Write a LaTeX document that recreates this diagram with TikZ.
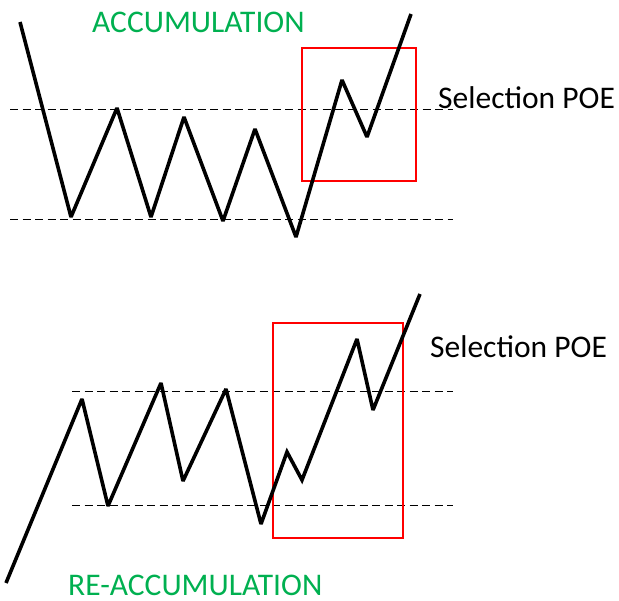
\documentclass[tikz,border=0pt]{standalone}
\usepackage{fontspec}
\setmainfont{Carlito}
\usetikzlibrary{positioning}
\definecolor{accgreen}{RGB}{0,176,80}

\begin{document}
\begin{tikzpicture}[x=1pt,y=-1pt,
  price/.style={line width=3.6pt, line join=miter, miter limit=2.5},
  level/.style={line width=1pt, dash pattern=on 8pt off 4.5pt},
  poe/.style={draw=red, line width=2pt},
  phase/.style={text=accgreen, font=\fontsize{31.5}{36}\selectfont, anchor=west, inner sep=0pt},
  note/.style={font=\fontsize{31.5}{36}\selectfont, anchor=west, inner sep=0pt}]

\useasboundingbox (0,0) rectangle (619,601);

% define the turning points of the accumulation
  \foreach \n/\p in {a0/{20,22}, a1/{71,217}, a2/{117,108}, a3/{151,217},
                     a4/{184,117}, a5/{223,221}, a6/{255,129}, a7/{296,237},
                     a8/{342,80}, a9/{367,137}, a10/{411,14}}
    \coordinate (\n) at (\p);

% define the turning points of the re-accumulation
  \foreach \n/\p in {r0/{6,583}, r1/{82,399}, r2/{108,506}, r3/{161,383},
                     r4/{183,481}, r5/{226,389}, r6/{261,524}, r7/{287,452},
                     r8/{302,480}, r9/{357,339}, r10/{373,410}, r11/{420,294}}
    \coordinate (\n) at (\p);

% range levels
  \draw[level] (10,110) -- (453,110);
  \draw[level] (10,220) -- (453,220);
  \draw[level] (72,392) -- (453,392);
  \draw[level] (72,506) -- (453,506);

% selection boxes
  \draw[poe] (302,48) rectangle (416,181);
  \draw[poe] (273,323) rectangle (403,538);

% price paths
  \draw[price] (a0) -- (a1) -- (a2) -- (a3) -- (a4) -- (a5) -- (a6)
               -- (a7) -- (a8) -- (a9) -- (a10);
  \draw[price] (r0) -- (r1) -- (r2) -- (r3) -- (r4) -- (r5) -- (r6)
               -- (r7) -- (r8) -- (r9) -- (r10) -- (r11);

% labels
  \node[phase] (acc)   at (92,22)  {ACCUMULATION};
  \node[phase] (reacc) at (68,585) {RE-ACCUMULATION};
  \node[note]  (poe1)  at (438,98) {Selection POE};
  \node[note]  (poe2)  at (430,347) {Selection POE};

\end{tikzpicture}
\end{document}
